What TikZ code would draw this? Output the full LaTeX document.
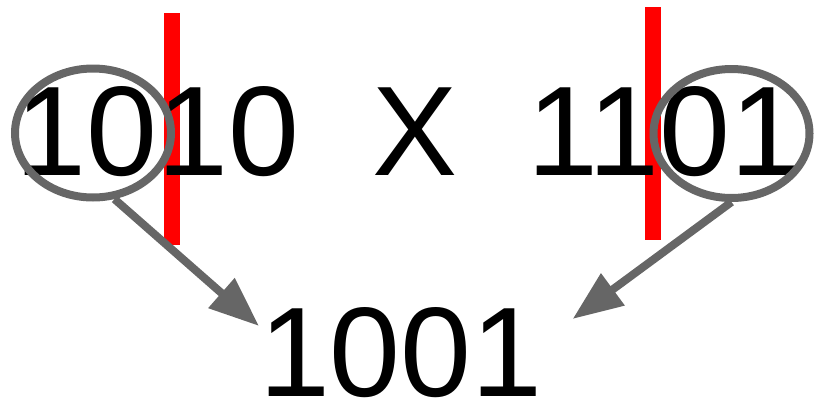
\documentclass[tikz,border=0pt]{standalone}
\usepackage{fontspec}
\setmainfont{Liberation Sans}
\usetikzlibrary{shapes.geometric,arrows.meta}
\definecolor{ringgray}{HTML}{666666}
\tikzset{
  num/.style={inner sep=0pt, outer sep=0pt, anchor=base west,
    font=\fontsize{127.5}{130}\selectfont},
  ring/.style={shape=ellipse, draw=ringgray, line width=8pt, inner sep=0pt,
    minimum width=156pt, minimum height=129pt},
  cut/.style={fill=red, draw=none},
  link/.style={draw=ringgray, line width=8pt,
    -{Triangle[length=50pt,width=38pt]}, fill=ringgray}
}
\begin{document}
\begin{tikzpicture}[x=1pt,y=-1pt]
  \useasboundingbox (0,0) rectangle (817,402);
  % split marks
  \fill[cut] (164,13) rectangle (180,245);
  \fill[cut] (645,7) rectangle (661,240);
  % operands and product
  \node[num] (lhs) at (16,175) {1010};
  \node[num] (times) at (372,175) {X};
  \node[num] (rhs) at (527,175) {1101};
  \node[num] (res) at (259,396) {1001};
  % selected digit pairs
  \node[ring] (lc) at (93,133) {};
  \node[ring] (rc) at (731.5,133.5) {};
  % arrows to the result
  \draw[link] (lc.-72) -- ([yshift=-19pt]res.north west);
  \draw[link] (rc.south) -- ([shift={(30pt,-12pt)}]res.north east);
\end{tikzpicture}
\end{document}
